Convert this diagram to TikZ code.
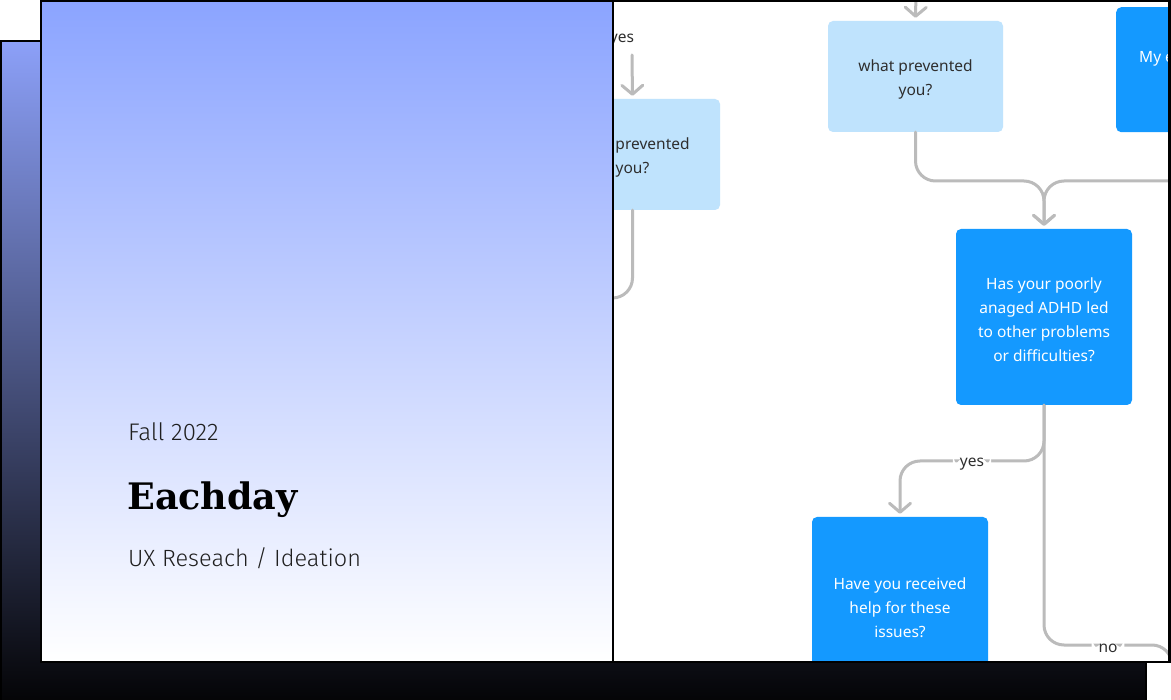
\documentclass[tikz,border=0pt]{standalone}
\usepackage{fontspec}
\setmainfont{Noto Sans}
\newfontfamily\lightfont{Fira Sans Light}
\newfontfamily\titlefont{DejaVu Serif}
\usetikzlibrary{arrows.meta}

\definecolor{cardtop}{HTML}{8BA4FF}
\definecolor{backtop}{HTML}{8CA0F8}
\definecolor{backbottom}{HTML}{040406}
\definecolor{lightq}{HTML}{BFE3FD}
\definecolor{darkq}{HTML}{1499FF}
\definecolor{linegray}{HTML}{BBBBBB}
\definecolor{inktext}{HTML}{2E2E2E}

\tikzset{
  qbox/.style={rectangle, rounded corners=5pt, minimum width=175pt, minimum height=111pt, inner sep=0pt},
  lightbox/.style={qbox, fill=lightq},
  darkbox/.style={qbox, fill=darkq, minimum width=176pt, minimum height=176pt},
  qtext/.style={align=center, inner sep=0pt, yshift=-3pt, font=\fontsize{15.5}{24}\selectfont},
  lighttext/.style={qtext, text=inktext},
  darktext/.style={qtext, text=white},
  link/.style={draw=linegray, line width=3pt, line cap=round, rounded corners=20pt},
  arrowlink/.style={link, -{Straight Barb[length=9pt, width=21pt, round]}, shorten >=3pt},
  answer/.style={fill=white, text=inktext, inner xsep=7pt, inner ysep=3pt, yshift=-3pt,
    font=\fontsize{15.5}{18}\selectfont},
  cardtext/.style={anchor=base west, inner sep=0pt, text=black!88}
}

\begin{document}
\begin{tikzpicture}[x=1pt, y=-1pt]
  \useasboundingbox (0,0) rectangle (1171,700);

  \shade[top color=backtop, bottom color=backbottom] (1,41) rectangle (1146,702); % back card
  \draw[line width=2.5pt] (1,702) -- (1,41) -- (1146,41) -- (1146,702);

  \fill[white] (613,1) rectangle (1169.5,662); % flow panel
  \begin{scope}
    \clip (613,1) rectangle (1169.5,662);

    \node[lightbox, label={[lighttext]center:{what prevented\\you?}}] (preventA) at (632.5,154.5) {};
    \node[lightbox, label={[lighttext]center:{what prevented\\you?}}] (preventB) at (915.5,76.5) {};
    \node[darkbox, minimum height=125pt, anchor=north west] (diary) at (1116,7) {};
    \node[anchor=base west, inner sep=0pt, text=white, font=\fontsize{15.5}{18}\selectfont] (diaryText) at (1139,63) {My e};
    \node[darkbox, label={[darktext]center:{Has your poorly\\anaged ADHD led\\to other problems\\or difficulties?}}] (adhd) at (1044,317) {};
    \node[darkbox, label={[darktext]center:{Have you received\\help for these\\issues?}}] (help) at (900,605) {};

    \coordinate (intoB) at (916,-10);
    \coordinate (intoA) at (632,55);
    \coordinate (leftA) at (580,298);
    \coordinate (merge) at (1044,181);
    \coordinate (rightIn) at (1200,181);
    \coordinate (yesRow) at (1044,461);
    \coordinate (noTurn) at (1172,645);
    \coordinate (noEnd) at (1172,720);

    \draw[arrowlink] (intoB) -- (preventB.north); % into B
    \draw[arrowlink] (intoA) -- (preventA.north); % into A
    \node[answer] (yesA) at (622,37) {yes};
    \draw[link] (preventA.south) -- (preventA.south |- leftA) -- (leftA); % A out

    \draw[arrowlink] (preventB.south) |- (merge) -- (adhd.north); % B to adhd
    \draw[arrowlink] (rightIn) -- (merge) -- (adhd.north); % diary to adhd

    \draw[link] (adhd.south) |- node[answer, pos=0.75] (noLabel) {no} (noTurn) -- (noEnd); % no
    \draw[arrowlink] (adhd.south) -- (yesRow) -| node[answer, pos=0.25] (yesLabel) {yes} (help.north); % yes
  \end{scope}
  \draw[line width=2.5pt] (613,1) rectangle (1169.5,662);

  \shade[top color=cardtop, bottom color=white] (41,1) rectangle (613,662); % front card
  \draw[line width=2.5pt] (41,1) rectangle (613,662);

  \node[cardtext, font=\lightfont\fontsize{24}{28}\selectfont] (term) at (128,441) {Fall 2022};
  \node[cardtext, text=black, font=\titlefont\bfseries\fontsize{36.5}{44}\selectfont] (title) at (127,510) {Eachday};
  \node[cardtext, font=\lightfont\fontsize{23.5}{28}\selectfont] (subtitle) at (128,566) {UX Reseach / Ideation};
\end{tikzpicture}
\end{document}
